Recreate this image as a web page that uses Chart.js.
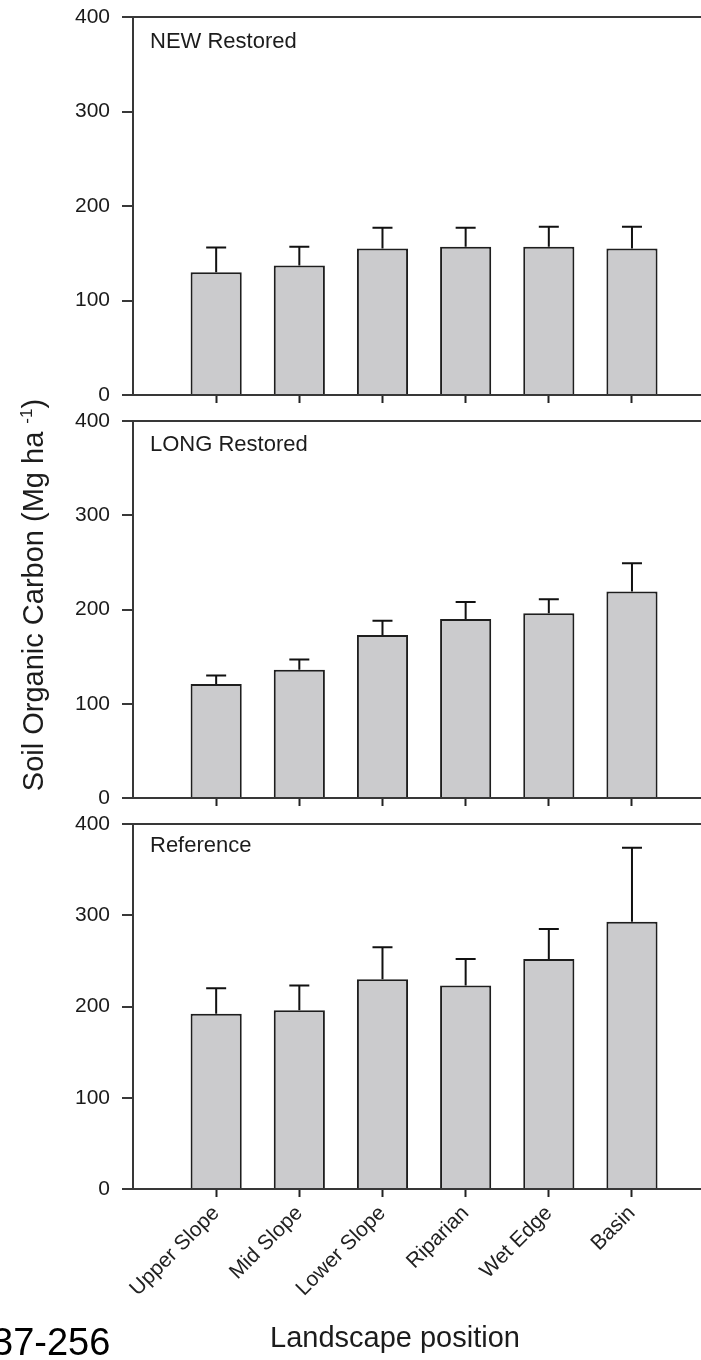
<!DOCTYPE html>
<html>
<head>
<meta charset="utf-8">
<script src="https://cdn.jsdelivr.net/npm/chart.js@4.4.1/dist/chart.umd.min.js"></script>
<style>
  html, body { margin: 0; padding: 0; background: #fff; overflow: hidden; }
  body { width: 701px; height: 1360px; position: relative; font-family: "Liberation Sans", Arial, sans-serif; color: #1c1c1c; }
  canvas { position: absolute; left: 0; display: block; }
  .etiqueta { position: absolute; left: 150px; font-size: 22px; line-height: 22px; white-space: nowrap; }
  #tituloY { position: absolute; left: -217px; top: 580px; width: 500px; height: 30px; line-height: 30px; text-align: center; font-size: 29px; white-space: nowrap; transform: rotate(-90deg); }
  #tituloY sup { font-size: 17px; vertical-align: 11px; line-height: 0; }
  #tituloX { position: absolute; left: 270px; top: 1323px; font-size: 29px; line-height: 29px; white-space: nowrap; }
  #pagina { position: absolute; left: -8px; top: 1323px; font-size: 38px; line-height: 38px; white-space: nowrap; color: #000; }
</style>
</head>
<body>
  <canvas id="panel1" width="701" height="410" style="top:0px"></canvas>
  <canvas id="panel2" width="701" height="403" style="top:410px"></canvas>
  <canvas id="panel3" width="701" height="547" style="top:813px"></canvas>

  <div class="etiqueta" style="top:30px">NEW Restored</div>
  <div class="etiqueta" style="top:433px">LONG Restored</div>
  <div class="etiqueta" style="top:834px">Reference</div>

  <div id="tituloY">Soil Organic Carbon (Mg ha <sup>-1</sup>)</div>
  <div id="tituloX">Landscape position</div>
  <div id="pagina">37-256</div>

<script>
// Posiciones del paisaje (eje x)
let posiciones = ['Upper Slope', 'Mid Slope', 'Lower Slope', 'Riparian', 'Wet Edge', 'Basin'];

// Valores (Mg ha-1) y su error (solo hacia arriba)
let nuevoValores = [130, 137, 155, 157, 157, 155];
let nuevoErrores = [26, 20, 22, 20, 21, 23];

let largoValores = [121, 136, 173, 190, 196, 219];
let largoErrores = [9, 11, 15, 18, 15, 30];

let referenciaValores = [192, 196, 230, 223, 252, 293];
let referenciaErrores = [28, 27, 35, 29, 33, 81];

// Marcas del eje y
let ticksY = [0, 100, 200, 300, 400];

let colorEje = '#383838';
let transparente = 'rgba(0,0,0,0)';

// Plugin para dibujar las barras de error encima de cada barra
let barrasError = {
  id: 'barrasError',
  afterDatasetsDraw(chart, args, opts) {
    let ctx = chart.ctx;
    let ejeY = chart.scales.y;
    let meta = chart.getDatasetMeta(0);
    let datos = chart.data.datasets[0].data;
    ctx.save();
    ctx.strokeStyle = '#111';
    ctx.lineWidth = 2;
    meta.data.forEach((barra, i) => {
      let arriba = ejeY.getPixelForValue(datos[i].y + opts.errores[i]);
      ctx.beginPath();
      ctx.moveTo(barra.x, barra.y);
      ctx.lineTo(barra.x, arriba);
      ctx.moveTo(barra.x - 10, arriba);
      ctx.lineTo(barra.x + 10, arriba);
      ctx.stroke();
    });
    ctx.restore();
  }
};

let crearPanel = (idCanvas, valores, errores, margenArriba, altoEjeX, conEtiquetas) => {
  //Referencia al canvas del panel
  let plotRef = document.getElementById(idCanvas);

  let config = {
    type: 'bar',
    data: {
      datasets: [
        {
          data: valores.map((v, i) => ({ x: i + 1, y: v })),
          backgroundColor: '#cbcbcd',
          borderColor: '#1e1e1e',
          borderWidth: 2,
          categoryPercentage: 1,
          barPercentage: 0.615
        }
      ]
    },
    options: {
      responsive: false,
      animation: false,
      layout: { padding: { top: margenArriba, left: 0, right: 0, bottom: 0 } },
      plugins: {
        legend: { display: false },
        tooltip: { enabled: false },
        barrasError: { errores: errores }
      },
      scales: {
        x: {
          type: 'linear',
          min: 0,
          max: 6.83,
          offset: false,
          z: 1,
          grid: {
            drawOnChartArea: false,
            offset: false,
            tickLength: 8,
            tickWidth: 2,
            tickColor: (c) => (c.tick && c.tick.value >= 1 && c.tick.value <= 6) ? '#222' : transparente
          },
          border: { color: colorEje, width: 2 },
          ticks: {
            stepSize: 1,
            includeBounds: false,
            autoSkip: false,
            display: conEtiquetas,
            minRotation: 45,
            maxRotation: 45,
            padding: 4,
            color: '#222',
            font: { family: 'Liberation Sans', size: 21 },
            callback: (v) => posiciones[v - 1] || ''
          },
          afterFit: (eje) => { eje.height = altoEjeX; }
        },
        y: {
          min: 0,
          max: 400,
          afterBuildTicks: (eje) => { eje.ticks = ticksY.map(v => ({ value: v })); },
          grid: {
            color: (c) => (c.tick && c.tick.value === 400) ? colorEje : transparente,
            lineWidth: 2,
            tickLength: 11,
            tickWidth: 2,
            tickColor: colorEje
          },
          border: { color: colorEje, width: 2 },
          ticks: {
            padding: 12,
            color: '#1a1a1a',
            font: { family: 'Liberation Sans', size: 21, lineHeight: 1 }
          },
          // ancho fijo del eje y sin relleno extra arriba/abajo
          afterFit: (eje) => {
            eje.width = 133;
            eje.paddingTop = 0;
            eje.paddingBottom = 0;
          }
        }
      }
    },
    plugins: [barrasError]
  };

  return new Chart(plotRef, config);
};

crearPanel('panel1', nuevoValores, nuevoErrores, 17, 15, false);
crearPanel('panel2', largoValores, largoErrores, 11, 15, false);
crearPanel('panel3', referenciaValores, referenciaErrores, 11, 171, true);
</script>
</body>
</html>
